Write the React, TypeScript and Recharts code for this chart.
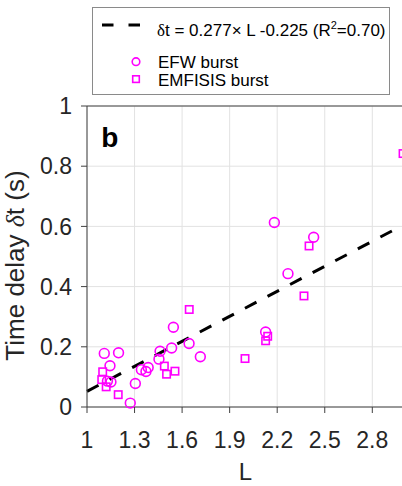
import React from 'react';
import {
  ComposedChart,
  Scatter,
  Line,
  XAxis,
  YAxis,
  CartesianGrid,
  Legend,
  ReferenceLine,
  Label,
} from 'recharts';

// ---- data ----
const efwL = [1.109, 1.199, 1.145, 1.129, 1.151, 1.305, 1.273, 1.343, 1.372, 1.386, 1.454, 1.461, 1.534, 1.545, 1.644, 1.715, 2.127, 2.182, 2.268, 2.43];
const efwDelay = [0.178, 0.18, 0.137, 0.086, 0.083, 0.078, 0.013, 0.124, 0.118, 0.131, 0.159, 0.185, 0.196, 0.265, 0.211, 0.167, 0.249, 0.613, 0.443, 0.564];

const emfisisL = [1.099, 1.093, 1.121, 1.197, 1.488, 1.502, 1.555, 1.645, 1.997, 2.127, 2.14, 2.369, 2.401, 2.994];
const emfisisDelay = [0.117, 0.091, 0.067, 0.041, 0.136, 0.109, 0.119, 0.324, 0.161, 0.22, 0.235, 0.369, 0.535, 0.842];

const fitL = [1, 3];
const fitDelay = [0.052, 0.606];

const xTicks = [1, 1.3, 1.6, 1.9, 2.2, 2.5, 2.8];
const yTicks = [0, 0.2, 0.4, 0.6, 0.8, 1];

const xLabel = 'L';
const yLabelParts = ['Time delay ', 'δ', 't (s)'];
const panelLabel = 'b';
const fitLabelParts = ['δ', 't = 0.277× L -0.225 (R', '2', '=0.70)'];
const efwName = 'EFW burst';
const emfisisName = 'EMFISIS burst';

// ---- tables built from the arrays ----
const efwData = efwL.map((L, i) => ({ L, dt: efwDelay[i] }));
const emfisisData = emfisisL.map((L, i) => ({ L, dt: emfisisDelay[i] }));
const fitData = fitL.map((L, i) => ({ L, dt: fitDelay[i] }));

const MAGENTA = '#FF00FF';
const AXIS = '#404040';
const TEXT = '#262626';
const SANS = '"Liberation Sans", Arial, Helvetica, sans-serif';
const SERIF = '"Liberation Serif", "Times New Roman", serif';

const CircleShape = (p: any) => (
  <circle cx={p.cx} cy={p.cy} r={4.9} fill="none" stroke={MAGENTA} strokeWidth={1.6} />
);
const SquareShape = (p: any) => (
  <rect x={p.cx - 3.7} y={p.cy - 3.7} width={7.4} height={7.4} fill="none" stroke={MAGENTA} strokeWidth={1.6} />
);

const YTitle = (props: any) => {
  const vb = props.viewBox;
  const cx = vb.x + 24;
  const cy = vb.y + vb.height / 2 + 9;
  return (
    <text
      x={cx}
      y={cy}
      transform={`rotate(-90, ${cx}, ${cy})`}
      textAnchor="middle"
      fontSize={26}
      fill={TEXT}
      fontFamily={SANS}
    >
      {yLabelParts[0]}
      <tspan fontFamily={SERIF} fontStyle="italic">{yLabelParts[1]}</tspan>
      {yLabelParts[2]}
    </text>
  );
};

const PanelTag = (props: any) => {
  const vb = props.viewBox;
  return (
    <text x={vb.x + vb.width + 14.3} y={vb.y + 40.5} fontSize={28} fontWeight="bold" fill="#000" fontFamily={SANS}>
      {panelLabel}
    </text>
  );
};

const XTitle = (props: any) => {
  const vb = props.viewBox;
  return (
    <text x={vb.x + vb.width / 2} y={vb.y + 73} textAnchor="middle" fontSize={24} fill={TEXT} fontFamily={SANS}>
      {xLabel}
    </text>
  );
};

const LegendBox = () => (
  <svg width={298} height={88} style={{ display: 'block' }}>
    <rect x={0.5} y={0.5} width={297} height={87} fill="#fff" stroke="#8a8a8a" strokeWidth={1} />
    <line x1={10} y1={18} x2={48} y2={18} stroke="#000" strokeWidth={3} strokeDasharray="11.5 15" />
    <text x={65} y={28.5} fontSize={17} fill="#000" fontFamily={SANS}>
      <tspan fontFamily={SERIF}>{fitLabelParts[0]}</tspan>
      {fitLabelParts[1]}
      <tspan dy={-7} fontSize={11}>{fitLabelParts[2]}</tspan>
      <tspan dy={7}>{fitLabelParts[3]}</tspan>
    </text>
    <circle cx={44} cy={54.7} r={3.8} fill="none" stroke={MAGENTA} strokeWidth={1.6} />
    <text x={66} y={61} fontSize={17} fill="#000" fontFamily={SANS}>{efwName}</text>
    <rect x={40.7} y={68.8} width={6.6} height={6.6} fill="none" stroke={MAGENTA} strokeWidth={1.6} />
    <text x={66} y={79} fontSize={17} fill="#000" fontFamily={SANS}>{emfisisName}</text>
  </svg>
);

export default function App() {
  return (
    <div
      style={{
        position: 'absolute',
        left: 0,
        top: 0,
        width: 402,
        height: 486,
        overflow: 'hidden',
        background: '#fff',
        fontFamily: SANS,
      }}
    >
      <ComposedChart width={404} height={486} margin={{ top: 106, right: 0, bottom: 0, left: 0 }}>
        <CartesianGrid stroke="#e2e2e2" strokeWidth={1} />
        <XAxis
          type="number"
          dataKey="L"
          domain={[1, 3]}
          ticks={xTicks}
          interval={0}
          height={79}
          tickSize={6}
          tickMargin={19}
          axisLine={{ stroke: AXIS, strokeWidth: 1 }}
          tickLine={{ stroke: AXIS, strokeWidth: 1 }}
          tick={{ fontSize: 23, fill: TEXT, fontFamily: SANS }}
        >
          <Label content={XTitle} />
        </XAxis>
        <YAxis
          type="number"
          dataKey="dt"
          domain={[0, 1]}
          ticks={yTicks}
          interval={0}
          width={87}
          tickSize={6}
          tickMargin={9}
          axisLine={{ stroke: AXIS, strokeWidth: 1 }}
          tickLine={{ stroke: AXIS, strokeWidth: 1 }}
          tick={{ fontSize: 23, fill: TEXT, fontFamily: SANS }}
        >
          <Label content={YTitle} />
          <Label content={PanelTag} />
        </YAxis>
        <ReferenceLine y={1} stroke={AXIS} strokeWidth={1} ifOverflow="extendDomain" />
        <Scatter name={efwName} data={efwData} dataKey="dt" shape={CircleShape} isAnimationActive={false} />
        <Scatter name={emfisisName} data={emfisisData} dataKey="dt" shape={SquareShape} isAnimationActive={false} />
        <Line
          data={fitData}
          dataKey="dt"
          type="linear"
          stroke="#000"
          strokeWidth={3}
          strokeDasharray="13 12.5"
          dot={false}
          activeDot={false}
          isAnimationActive={false}
        />
        <Legend
          layout="horizontal"
          verticalAlign="middle"
          align="center"
          content={LegendBox}
          wrapperStyle={{ position: 'absolute', top: 7, left: 92, width: 298, height: 88, right: 'auto', bottom: 'auto' }}
        />
      </ComposedChart>
    </div>
  );
}
